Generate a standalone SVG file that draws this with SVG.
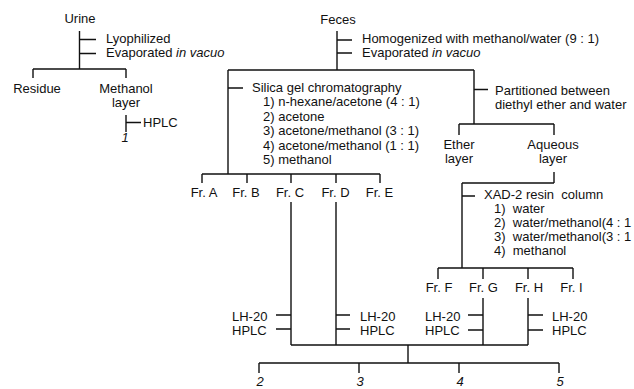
<svg xmlns="http://www.w3.org/2000/svg" width="634" height="389" viewBox="0 0 634 389">
<style>
text{font-family:"Liberation Sans",Arial,Helvetica,sans-serif;font-size:13px;fill:#111;white-space:pre}
.m{text-anchor:middle}
.i{font-style:italic}
#connectors path{fill:none;stroke:#111;stroke-width:1.4}
</style>
<rect width="634" height="389" fill="#fff"/>
<g id="connectors">
<path d="M79.5 31V69M79.5 39.5H96M79.5 53.5H96M33 69H126M33 69V78M126 69V78"/>
<path d="M126 115V132M126 122.5H141"/>
<path d="M337 31V70M337 40H352M337 53H352M228 70H474"/>
<path d="M228 70V174M228 88H243M202 174H380M202 174V183M247 174V183M291 174V183M336 174V183M380 174V183"/>
<path d="M474 70V124M474 89.5H488M459 124H554M459 124V135M554 124V135"/>
<path d="M554 172V183M462 183H554M462 183V268M462 196H475M438 268H573M438 268V279M483 268V279M528 268V279M573 268V279"/>
<path d="M291 202V345M336 202V345M483 298V345M528 298V345M291 345H528"/>
<path d="M276 315H291M276 329H291M336 315H350M336 329H350M468 315H483M468 330H483M528 315H543M528 330H543"/>
<path d="M408 345V363M259 363H559M259 363V373M359 363V373M459 363V373M559 363V373"/>
</g>
<g id="urine"><text class="m" x="80" y="23">Urine</text></g>
<g id="urine-steps"><text x="106" y="43">Lyophilized</text><text x="106" y="57">Evaporated <tspan class="i">in vacuo</tspan></text></g>
<g id="residue"><text class="m" x="37" y="93">Residue</text></g>
<g id="methanol-layer"><text class="m" x="126" y="93">Methanol</text><text class="m" x="126" y="107">layer</text></g>
<g id="urine-hplc"><text x="143" y="127">HPLC</text></g>
<g id="compound-1"><text class="m i" x="125" y="142">1</text></g>
<g id="feces"><text class="m" x="338" y="24">Feces</text></g>
<g id="feces-steps"><text x="362" y="43">Homogenized with methanol/water (9 : 1)</text><text x="362" y="57">Evaporated <tspan class="i">in vacuo</tspan></text></g>
<g id="silica">
<text x="252" y="92">Silica gel chromatography</text>
<text x="263" y="106.4">1) n-hexane/acetone (4 : 1)</text>
<text x="263" y="120.8">2) acetone</text>
<text x="263" y="135.2">3) acetone/methanol (3 : 1)</text>
<text x="263" y="149.6">4) acetone/methanol (1 : 1)</text>
<text x="263" y="164">5) methanol</text>
</g>
<g id="partition"><text x="495" y="95">Partitioned between</text><text x="495" y="109">diethyl ether and water</text></g>
<g id="ether-layer"><text class="m" x="459" y="149">Ether</text><text class="m" x="459" y="163">layer</text></g>
<g id="aqueous-layer"><text class="m" x="553" y="149">Aqueous</text><text class="m" x="553" y="163">layer</text></g>
<g id="fr-a"><text class="m" x="204" y="197">Fr. A</text></g>
<g id="fr-b"><text class="m" x="246" y="197">Fr. B</text></g>
<g id="fr-c"><text class="m" x="290" y="197">Fr. C</text></g>
<g id="fr-d"><text class="m" x="335.5" y="197">Fr. D</text></g>
<g id="fr-e"><text class="m" x="379.5" y="197">Fr. E</text></g>
<g id="xad">
<text x="484" y="199">XAD-2 resin  column</text>
<text x="494" y="213">1)  water</text>
<text x="494" y="227">2)  water/methanol(4 : 1</text>
<text x="494" y="241">3)  water/methanol(3 : 1</text>
<text x="494" y="255">4)  methanol</text>
</g>
<g id="fr-f"><text class="m" x="439" y="292">Fr. F</text></g>
<g id="fr-g"><text class="m" x="483.5" y="292">Fr. G</text></g>
<g id="fr-h"><text class="m" x="529" y="292">Fr. H</text></g>
<g id="fr-i"><text class="m" x="571.5" y="292">Fr. I</text></g>
<g id="step-c"><text x="232" y="321">LH-20</text><text x="232" y="335">HPLC</text></g>
<g id="step-d"><text x="360" y="321">LH-20</text><text x="360" y="335">HPLC</text></g>
<g id="step-g"><text x="425" y="321">LH-20</text><text x="425" y="335">HPLC</text></g>
<g id="step-h"><text x="552" y="321">LH-20</text><text x="552" y="335">HPLC</text></g>
<g id="compound-2"><text class="m i" x="260" y="386">2</text></g>
<g id="compound-3"><text class="m i" x="360" y="386">3</text></g>
<g id="compound-4"><text class="m i" x="460" y="386">4</text></g>
<g id="compound-5"><text class="m i" x="560" y="386">5</text></g>
</svg>
